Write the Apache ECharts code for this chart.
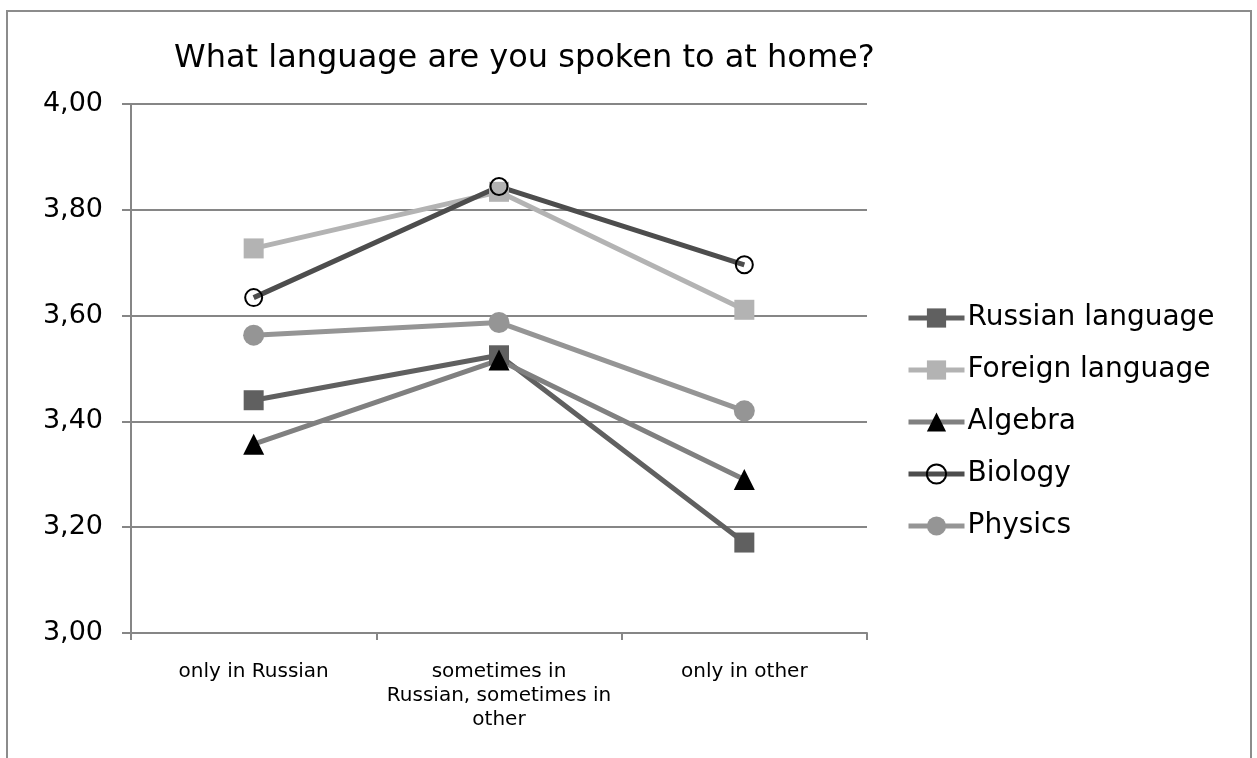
<!DOCTYPE html>
<html>
<head>
<meta charset="utf-8">
<script src="https://cdn.jsdelivr.net/npm/echarts@6/dist/echarts.min.js"></script>
<style>
  html, body { margin: 0; padding: 0; background: #fff; }
  #chart { width: 1257px; height: 758px; }
</style>
</head>
<body>
<div id="chart"></div>
<script>
// categories and values
const categories = ['only in Russian', 'sometimes in\nRussian, sometimes in\nother', 'only in other'];
const russianLanguage = [3.44, 3.525, 3.171];
const foreignLanguage = [3.727, 3.834, 3.611];
const algebra = [3.357, 3.516, 3.29];
const biology = [3.634, 3.844, 3.696];
const physics = [3.563, 3.587, 3.42];
const seriesNames = ['Russian language', 'Foreign language', 'Algebra', 'Biology', 'Physics'];

const fontFamily = 'DejaVu Sans, Verdana, sans-serif';
const axisColor = '#868686';

const chart = echarts.init(document.getElementById('chart'));

const lineSeries = (name, data, color, symbol, size, markerStyle) => ({
  name: name,
  type: 'line',
  data: data,
  symbol: symbol,
  symbolSize: size,
  lineStyle: { color: color, width: 5 },
  itemStyle: markerStyle || { color: color },
  z: 3,
});

const option = {
  animation: false,
  backgroundColor: '#fff',
  graphic: [
    {
      type: 'rect',
      shape: { x: 7, y: 11, width: 1244, height: 760 },
      style: { fill: 'none', stroke: '#8c8c8c', lineWidth: 2 },
      z: -1,
    },
  ],
  title: {
    text: 'What language are you spoken to at home?',
    left: 169,
    top: 38,
    textStyle: { fontFamily: fontFamily, fontSize: 32, fontWeight: 'normal', color: '#000' },
  },
  legend: {
    orient: 'vertical',
    left: 901,
    top: 299,
    itemWidth: 56,
    itemHeight: 24,
    itemGap: 24,
    lineStyle: { width: 5 },
    textStyle: { fontFamily: fontFamily, fontSize: 28, color: '#000', padding: [0, 0, 0, -2] },
    data: seriesNames,
  },
  grid: { left: 131, right: 390, top: 104, bottom: 125 },
  xAxis: {
    type: 'category',
    data: categories,
    boundaryGap: true,
    axisLine: { lineStyle: { color: axisColor, width: 2 } },
    axisTick: { show: true, length: 7, lineStyle: { color: axisColor, width: 2 } },
    axisLabel: {
      fontFamily: fontFamily, fontSize: 20, color: '#000', margin: 27,
      lineHeight: 24, interval: 0,
    },
  },
  yAxis: {
    type: 'value',
    min: 3.0,
    max: 4.0,
    interval: 0.2,
    axisLine: { show: true, lineStyle: { color: axisColor, width: 2 } },
    axisTick: { show: true, length: 9, lineStyle: { color: axisColor, width: 2 } },
    splitLine: { lineStyle: { color: axisColor, width: 2 } },
    axisLabel: {
      fontFamily: fontFamily, fontSize: 27, color: '#000', margin: 28,
      formatter: v => v.toFixed(2).replace('.', ','),
    },
  },
  series: [
    lineSeries(seriesNames[0], russianLanguage, '#606060', 'rect', 20),
    lineSeries(seriesNames[1], foreignLanguage, '#b3b3b3', 'rect', 20),
    lineSeries(seriesNames[2], algebra, '#808080', 'triangle', 21, { color: '#000' }),
    lineSeries(seriesNames[3], biology, '#4d4d4d', 'circle', 17,
      { color: 'rgba(0,0,0,0)', borderColor: '#000', borderWidth: 2 }),
    lineSeries(seriesNames[4], physics, '#959595', 'circle', 21),
  ],
};

chart.setOption(option);
</script>
</body>
</html>
